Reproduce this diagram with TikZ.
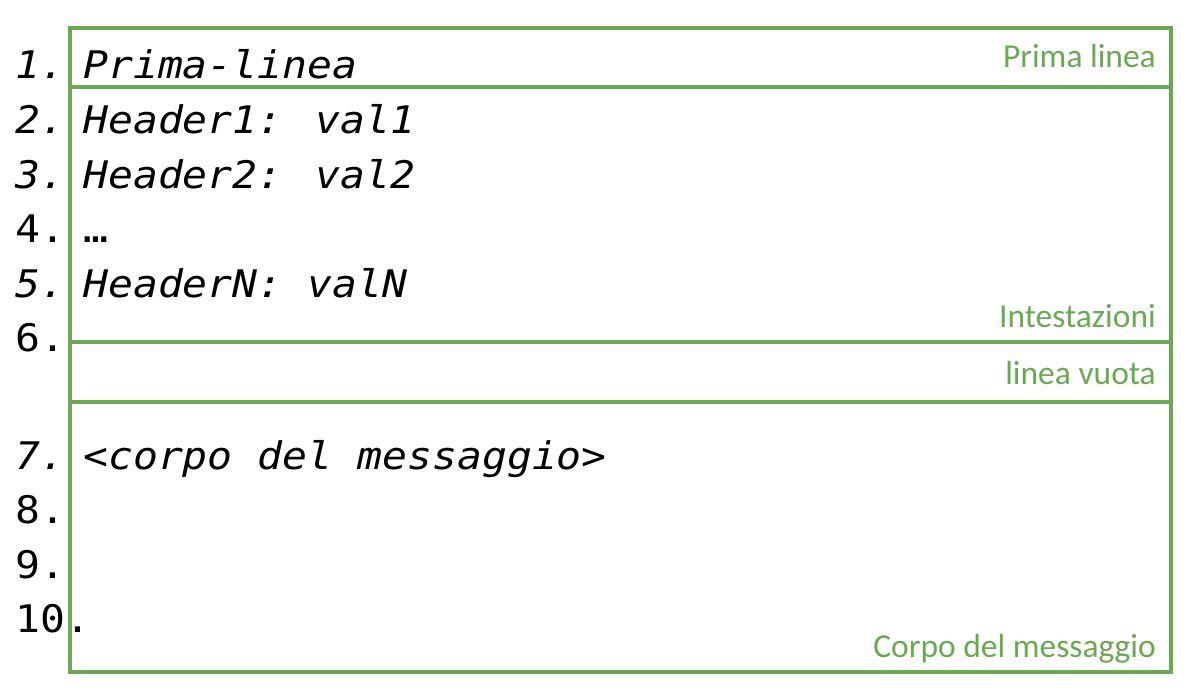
\documentclass[tikz,border=0pt]{standalone}
\usepackage{fontspec}
\setmainfont{Carlito}
\newfontfamily\codefont[FakeStretch=1.09,ItalicFont={DejaVu Sans Mono Oblique}]{DejaVu Sans Mono}
\definecolor{boxgreen}{RGB}{106,168,84}
\begin{document}
\begin{tikzpicture}[x=1pt,y=-1pt,
  code/.style={anchor=base west,inner sep=0pt,font=\codefont\fontsize{38}{38}\selectfont},
  codeit/.style={code,font=\codefont\itshape\fontsize{38}{38}\selectfont},
  part/.style={anchor=base east,inner sep=0pt,text=boxgreen,font=\fontsize{33.5}{33.5}\selectfont},
  frame/.style={draw=boxgreen,line width=3.5pt}]
\useasboundingbox (0,0) rectangle (1189,696);

% outer frame and section dividers
\draw[frame] (70,28) rectangle (1171,672);
\coordinate (d1l) at (70,87);  \coordinate (d1r) at (1171,87);
\coordinate (d2l) at (70,342); \coordinate (d2r) at (1171,342);
\coordinate (d3l) at (70,402); \coordinate (d3r) at (1171,402);
\draw[frame] (d1l) -- (d1r);
\draw[frame] (d2l) -- (d2r);
\draw[frame] (d3l) -- (d3r);

% line numbers
\node[codeit] (n1) at (15,78) {1.};
\node[codeit] (n2) at (15,133) {2.};
\node[codeit] (n3) at (15,188) {3.};
\node[code]   (n4) at (15,242) {4.};
\node[codeit] (n5) at (15,297) {5.};
\node[code]   (n6) at (15,351) {6.};
\node[codeit] (n7) at (15,469) {7.};
\node[code]   (n8) at (15,523) {8.};
\node[code]   (n9) at (15,578) {9.};
\node[code]   (n10) at (15,632) {10.};

% message lines
\node[codeit] (l1) at (83,78) {Prima-linea};
\node[codeit] (l2) at (83,133) {Header1: val1};
\node[codeit] (l3) at (83,188) {Header2: val2};
\node[code]   (l4) at (83,242) {…};
\node[codeit] (l5) at (83,297) {HeaderN: valN};
\node[codeit] (l7) at (83,469) {<corpo del messaggio>};

% section captions
\node[part] (c1) at (1156,67) {Prima linea};
\node[part] (c2) at (1156,327) {Intestazioni};
\node[part] (c3) at (1156,384) {linea vuota};
\node[part] (c4) at (1156,657) {Corpo del messaggio};
\end{tikzpicture}
\end{document}
